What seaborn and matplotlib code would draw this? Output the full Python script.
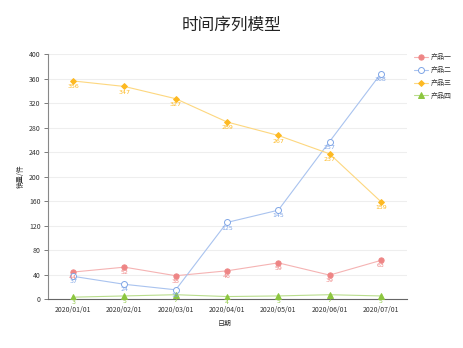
import matplotlib
matplotlib.use("Agg")
import matplotlib.pyplot as plt
import seaborn as sns
import pandas as pd
import numpy as np

dates = ["2020/01/01", "2020/02/01", "2020/03/01", "2020/04/01", "2020/05/01", "2020/06/01", "2020/07/01"]
names = ["产品一", "产品二", "产品三", "产品四"]
p1 = [44, 52, 38, 46, 59, 39, 63]
p2 = [37, 24, 15, 125, 145, 257, 368]
p3 = [356, 347, 327, 289, 267, 237, 159]
p4 = [3, 5, 7, 4, 5, 7, 5]
series = [p1, p2, p3, p4]

sns.set_theme(style="white")
plt.rcParams['font.family'] = ['Noto Sans CJK SC', 'DejaVu Sans']

colors = ["#ee8585", "#7fa5e6", "#fdb922", "#8cc63f"]
line_colors = ["#f5b3b3", "#a9c3ef", "#fdd77f", "#b9dd8c"]
markers = ["o", "o", "D", "^"]
faces = ["#ee8585", "white", "#fdb922", "#8cc63f"]
msizes = [3.8, 4.3, 3.0, 4.3]

fig = plt.figure(figsize=(4.63, 3.48), dpi=100)
ax = fig.add_axes([47.5/463, 1-299/348, 359/463, 245/348])

xs = np.arange(len(dates))
for i, (name, vals) in enumerate(zip(names, series)):
    df = pd.DataFrame({"x": xs, "y": vals})
    sns.lineplot(data=df, x="x", y="y", ax=ax, color=line_colors[i], linewidth=0.8,
                 marker=markers[i], markersize=msizes[i], markerfacecolor=faces[i],
                 markeredgecolor=colors[i], markeredgewidth=0.7, label=name, zorder=3)
    for x, v in zip(xs, vals):
        ax.text(x, v - 5, str(v), color=colors[i], fontsize=4.5, ha="center", va="top",
                family=['DejaVu Sans'], zorder=4)

ax.set_xlim(-0.5, 6.5)
ax.set_ylim(0, 400)
ax.set_yticks(np.arange(0, 401, 40))
ax.set_xticks(xs)
ax.set_xticklabels(dates)
ax.set_xticks(np.arange(-0.5, 7, 1), minor=True)
ax.tick_params(axis="x", which="major", length=0, labelsize=5, pad=5, colors="#333333")
ax.tick_params(axis="x", which="minor", length=3, color="#666666", width=0.6, direction="out")
ax.tick_params(axis="y", which="major", length=3, labelsize=5, pad=2, colors="#333333", color="#666666", width=0.6, direction="out")
ax.tick_params(bottom=True, left=True)
ax.tick_params(axis="x", which="major", bottom=False)
ax.grid(axis="y", color="#eeeeee", linewidth=0.8)
ax.set_axisbelow(True)
for s in ["top", "right"]:
    ax.spines[s].set_visible(False)
ax.spines["left"].set_color("#888888")
ax.spines["bottom"].set_color("#666666")
ax.spines["left"].set_linewidth(0.8)
ax.spines["bottom"].set_linewidth(0.8)

ax.set_xlabel("日期", fontsize=5, color="#333333")
ax.xaxis.set_label_coords((225 - 47.5) / 359, -(320 - 299) / 245)
ax.set_ylabel("销量/件", fontsize=5, color="#333333")
ax.yaxis.set_label_coords(-(47.5 - 25) / 359, 0.5)

fig.text(0.5, 1 - 25/348, "时间序列模型", ha="center", va="center", fontsize=12, color="#222222")

leg = ax.legend(loc="upper left", bbox_to_anchor=(408/463, 1 - 47/348), bbox_transform=fig.transFigure,
                frameon=False, fontsize=5, handlelength=2.0, labelspacing=0.7, handletextpad=0.4)
for t in leg.get_texts():
    t.set_color("#333333")

fig.savefig("out.png", dpi=100)
